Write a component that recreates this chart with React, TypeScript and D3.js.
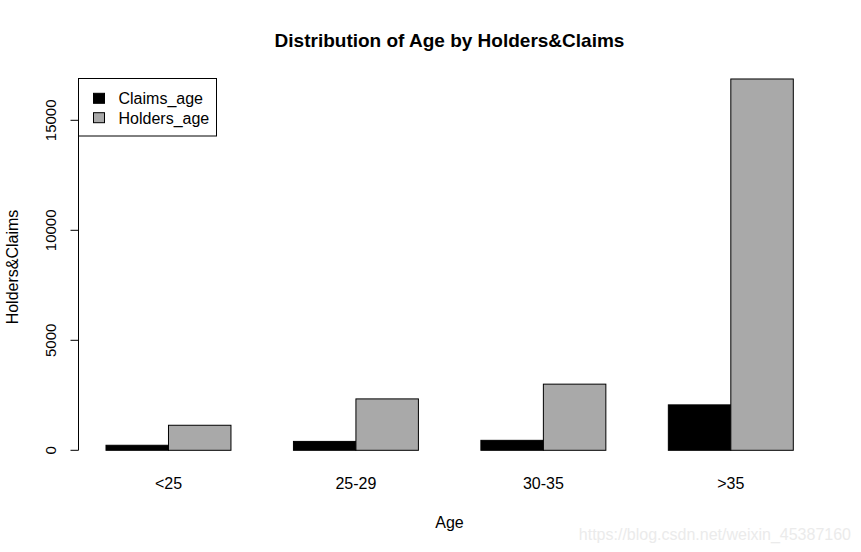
import React, { useEffect, useRef } from "react";
import * as d3 from "d3";

const ages = ["<25", "25-29", "30-35", ">35"];
const claimsAge = [229, 404, 453, 2065];
const holdersAge = [1138, 2336, 3007, 16878];
const yTicks = [0, 5000, 10000, 15000];
const seriesNames = ["Claims_age", "Holders_age"];
const seriesColors = ["#000000", "#a9a9a9"];

const W = 861;
const H = 552;
const FONT = "'Liberation Sans', Arial, sans-serif";

const App = () => {
  const ref = useRef<SVGSVGElement>(null);

  useEffect(() => {
    const svg = d3.select(ref.current);
    svg.selectAll("*").remove();

    // R barplot units: each bar is 1 wide, groups separated by 1
    const x = d3.scaleLinear().domain([1, 12]).range([106, 793.3]);
    const y = d3.scaleLinear().domain([0, 15000]).range([450.3, 120.3]);

    svg.append("rect").attr("width", W).attr("height", H).attr("fill", "#fff");

    const series = [claimsAge, holdersAge];
    ages.forEach((age, i) => {
      const start = 1 + i * 3;
      series.forEach((vals, s) => {
        const x0 = x(start + s);
        const x1 = x(start + s + 1);
        svg
          .append("rect")
          .attr("x", x0)
          .attr("y", y(vals[i]))
          .attr("width", x1 - x0)
          .attr("height", y(0) - y(vals[i]))
          .attr("fill", seriesColors[s])
          .attr("stroke", "#000")
          .attr("stroke-width", 1);
      });
      svg
        .append("text")
        .attr("x", x(start + 1))
        .attr("y", 489)
        .attr("text-anchor", "middle")
        .style("font-family", FONT)
        .style("font-size", "16px")
        .text(age);
    });

    // y axis
    const axisX = 78.5;
    svg
      .append("line")
      .attr("x1", axisX)
      .attr("x2", axisX)
      .attr("y1", y(0))
      .attr("y2", y(15000))
      .attr("stroke", "#000");
    yTicks.forEach((t) => {
      svg
        .append("line")
        .attr("x1", axisX - 8)
        .attr("x2", axisX)
        .attr("y1", y(t))
        .attr("y2", y(t))
        .attr("stroke", "#000");
      svg
        .append("text")
        .attr("transform", `translate(56,${y(t)}) rotate(-90)`)
        .attr("text-anchor", "middle")
        .style("font-family", FONT)
        .style("font-size", "15px")
        .text(t);
    });

    // titles
    svg
      .append("text")
      .attr("x", 449.5)
      .attr("y", 47)
      .attr("text-anchor", "middle")
      .style("font-family", FONT)
      .style("font-size", "19px")
      .style("font-weight", "bold")
      .text("Distribution of Age by Holders&Claims");
    svg
      .append("text")
      .attr("x", 449.5)
      .attr("y", 528)
      .attr("text-anchor", "middle")
      .style("font-family", FONT)
      .style("font-size", "16px")
      .text("Age");
    svg
      .append("text")
      .attr("transform", `translate(18,267) rotate(-90)`)
      .attr("text-anchor", "middle")
      .style("font-family", FONT)
      .style("font-size", "16px")
      .text("Holders&Claims");

    // legend
    const lg = svg.append("g");
    lg.append("rect")
      .attr("x", 78.5)
      .attr("y", 78.5)
      .attr("width", 138)
      .attr("height", 57.5)
      .attr("fill", "#fff")
      .attr("stroke", "#000");
    seriesNames.forEach((name, s) => {
      const cy = 98.3 + s * 19.4;
      lg.append("rect")
        .attr("x", 93.5)
        .attr("y", cy - 5)
        .attr("width", 11)
        .attr("height", 10)
        .attr("fill", seriesColors[s])
        .attr("stroke", "#000");
      lg.append("text")
        .attr("x", 118.5)
        .attr("y", cy + 6)
        .style("font-family", FONT)
        .style("font-size", "16px")
        .text(name);
    });

    // watermark
    svg
      .append("text")
      .attr("x", 851)
      .attr("y", 540)
      .attr("text-anchor", "end")
      .attr("fill", "#ebebeb")
      .style("font-family", FONT)
      .style("font-size", "16px")
      .text("https://blog.csdn.net/weixin_45387160");
  }, []);

  return (
    <svg
      ref={ref}
      width={W}
      height={H}
      style={{ position: "absolute", left: 0, top: 0 }}
    />
  );
};

export default App;
